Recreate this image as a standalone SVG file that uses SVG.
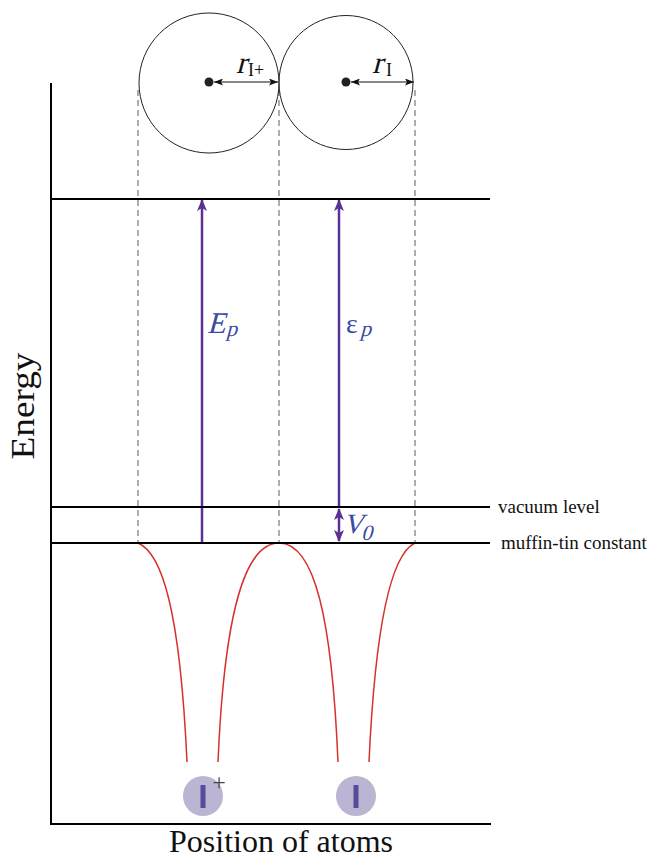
<svg xmlns="http://www.w3.org/2000/svg" width="654" height="858" viewBox="0 0 654 858">
<style>
.ax{stroke:#000;stroke-width:2;fill:none}
.lvl{stroke:#000;stroke-width:2;fill:none}
.dash{stroke:#777;stroke-width:1.2;stroke-dasharray:6,4;fill:none}
.pu{stroke:#5b3093;stroke-width:2.5;fill:none}
.red{stroke:#d3322d;stroke-width:1.5;fill:none}
.circ{stroke:#222;stroke-width:1;fill:none}
.lab{font-family:"Liberation Serif",serif;fill:#3b4ba3}
.txt{font-family:"Liberation Serif",serif;fill:#111}
.ion{fill:#bcb4d3}
.bar{fill:#574b9c}
</style>
<defs>
<marker id="ph" markerWidth="12" markerHeight="12" refX="11" refY="5" orient="auto-start-reverse" markerUnits="userSpaceOnUse" viewBox="0 0 12 10">
<path d="M0,0 L12,5 L0,10 L3,5 Z" fill="#5b3093"/>
</marker>
<marker id="bh" markerWidth="9" markerHeight="7" refX="9" refY="3.5" orient="auto-start-reverse" markerUnits="userSpaceOnUse" viewBox="0 0 9 7">
<path d="M0,0 L9,3.5 L0,7 L2,3.5 Z" fill="#111"/>
</marker>
</defs>

<g id="connectors">
<line class="dash" x1="138" y1="90" x2="138" y2="543"/>
<line class="dash" x1="279" y1="90" x2="279" y2="543"/>
<line class="dash" x1="415" y1="90" x2="415" y2="543"/>
<line class="pu" x1="202" y1="543" x2="202" y2="200" marker-end="url(#ph)"/>
<line class="pu" x1="339" y1="507" x2="339" y2="200" marker-end="url(#ph)"/>
<line class="pu" x1="339" y1="509" x2="339" y2="541" marker-start="url(#ph)" marker-end="url(#ph)"/>
<line x1="214" y1="82" x2="278" y2="82" stroke="#111" stroke-width="1.2" marker-start="url(#bh)" marker-end="url(#bh)"/>
<line x1="351" y1="82" x2="414" y2="82" stroke="#111" stroke-width="1.2" marker-start="url(#bh)" marker-end="url(#bh)"/>
<path class="red" d="M138,543 C162,553 180,610 187,762"/>
<path class="red" d="M218,762 C224,620 243,543 279,543 C315,543 332,620 338,762"/>
<path class="red" d="M369,762 C376,610 394,553 415,543"/>
</g>

<g id="axes">
<line class="ax" x1="51" y1="83" x2="51" y2="825"/>
<line class="ax" x1="50" y1="824" x2="491" y2="824"/>
<text class="txt" font-size="34" text-anchor="middle" transform="translate(34,406) rotate(-90)" textLength="107" lengthAdjust="spacingAndGlyphs">Energy</text>
<text class="txt" x="281" y="852" font-size="32" text-anchor="middle">Position of atoms</text>
</g>

<g id="levels">
<line class="lvl" x1="50" y1="199" x2="490" y2="199"/>
<line class="lvl" x1="50" y1="507" x2="490" y2="507"/>
<line class="lvl" x1="50" y1="543" x2="490" y2="543"/>
<text class="txt" x="498" y="513" font-size="19">vacuum level</text>
<text class="txt" x="501" y="549" font-size="19">muffin-tin constant</text>
</g>

<g id="atomI+">
<circle class="circ" cx="209" cy="83" r="70"/>
<circle cx="209" cy="82" r="4.5" fill="#222"/>
<text class="txt" font-size="31" transform="translate(236,73) skewX(-15)">r</text>
<text class="txt" x="248" y="76" font-size="18">I+</text>
</g>

<g id="atomI">
<circle class="circ" cx="346" cy="82.5" r="67"/>
<circle cx="346" cy="82" r="4.5" fill="#222"/>
<text class="txt" font-size="31" transform="translate(372,73) skewX(-15)">r</text>
<text class="txt" x="386" y="76" font-size="18">I</text>
</g>

<g id="labels">
<text class="lab" font-size="30" transform="translate(207,333) skewX(-15)">E</text>
<text class="lab" font-size="22" transform="translate(226,336) skewX(-15)">p</text>
<text class="lab" x="346" y="333" font-size="28">ε</text>
<text class="lab" font-size="22" transform="translate(360,336) skewX(-15)">p</text>
<text class="lab" font-size="28" transform="translate(343,533) skewX(-15)">V</text>
<text class="lab" font-size="22" transform="translate(361,540) skewX(-15)">0</text>
</g>

<g id="ionI+">
<circle class="ion" cx="203" cy="796" r="20"/>
<rect class="bar" x="200.5" y="785" width="5" height="23"/>
<text x="219" y="790" font-size="24" font-family="Liberation Serif,serif" fill="#444" text-anchor="middle">+</text>
</g>

<g id="ionI">
<circle class="ion" cx="356" cy="796" r="20"/>
<rect class="bar" x="353.5" y="785" width="5" height="23"/>
</g>
</svg>
